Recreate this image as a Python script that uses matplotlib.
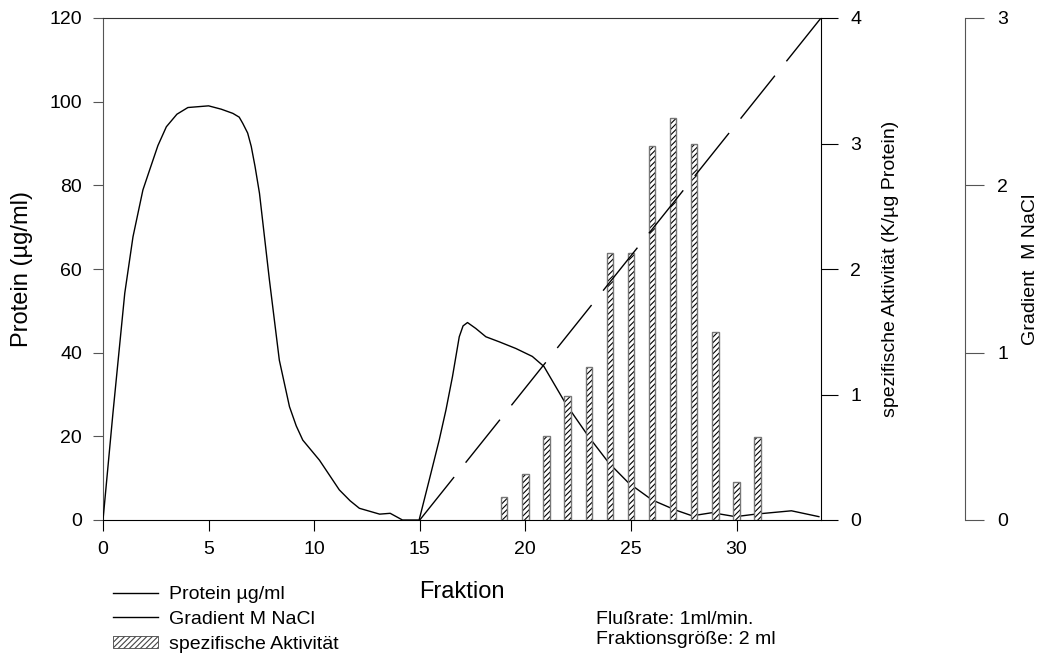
import numpy as np
import matplotlib
matplotlib.use("Agg")
import matplotlib.pyplot as plt
from matplotlib.lines import Line2D
from matplotlib.patches import Patch

plt.rcParams['font.family'] = ['Liberation Sans', 'DejaVu Sans']
plt.rcParams['hatch.linewidth'] = 0.8

# Proteinverlauf (µg/ml)
prot_x = [0, 0.47, 1.03, 1.42, 1.89, 2.21, 2.6, 3.0, 3.5, 4.02, 5.0, 5.6, 6.15, 6.45, 6.62,
          6.85, 7.02, 7.2, 7.41, 7.88, 8.35, 8.83, 9.15, 9.46, 10.25, 11.19, 11.7, 12.14, 13.1, 13.6,
          14.18, 14.97, 15.45, 15.92, 16.24, 16.55, 16.87, 17.05, 17.26, 17.65, 18.13,
          18.76, 19.55, 20.33, 20.88, 21.9, 23.0, 23.96, 24.9, 26.0, 27.1, 27.9,
          28.84, 29.95, 30.9, 32.6, 33.9]
prot_y = [0, 25.5, 54.2, 67.7, 78.9, 83.7, 89.5, 94.0, 97.0, 98.6, 99.0, 98.2, 97.2, 96.3, 94.8,
          92.5, 89.3, 84.5, 78.1, 57.4, 38.2, 27.1, 22.5, 19.1, 14.3, 7.2, 4.6, 2.8, 1.4, 1.6,
          0, 0, 9.6, 19.1, 26.3, 34.3, 43.8, 46.4, 47.2, 45.8, 43.8,
          42.6, 41.0, 39.1, 36.7, 27.9, 19.9, 13.6, 8.8, 4.8, 2.4, 1.0,
          1.75, 0.8, 1.4, 2.2, 0.8]

# Gradient M NaCl
grad_x = [15, 34]
grad_y = [0, 3]

# spezifische Aktivität (K/µg Protein)
frakt = [19, 20, 21, 22, 23, 24, 25, 26, 27, 28, 29, 30, 31]
aktiv = [0.18, 0.37, 0.67, 0.99, 1.22, 2.13, 2.13, 2.98, 3.2, 3.0, 1.5, 0.3, 0.66]

fig = plt.figure(figsize=(10.43, 6.57), dpi=100)
ax = fig.add_axes([103 / 1043, 1 - 520 / 657, 718 / 1043, 502 / 657])
ax2 = ax.twinx()
ax3 = ax.twinx()

ax.plot(prot_x, prot_y, color='black', lw=1.0, zorder=3)
ax.set_xlim(0, 34)
ax.set_ylim(0, 120)
ax.set_xticks([0, 5, 10, 15, 20, 25, 30])
ax.set_yticks(range(0, 121, 20))
ax.set_xlabel('Fraktion', fontsize=17)
ax.xaxis.set_label_coords(0.5, -(592 - 520) / 502)
ax.xaxis.label.set_va('center')
ax.set_ylabel('Protein (µg/ml)', fontsize=17)
ax.yaxis.set_label_coords((22 - 103) / 718, 0.5)
ax.yaxis.label.set_va('center')
ax.tick_params(axis='x', labelsize=14, length=8, width=0.8, pad=7)
ax.tick_params(axis='y', labelsize=14, length=7, width=0.8, pad=8,
               colors='#555555', labelcolor='black')
ax.spines['right'].set_visible(False)
ax.spines['left'].set_color('#555555')
ax.spines['top'].set_color('#333333')

# Balken: Schraffur schwarz, Rand grau
ax2.bar(frakt, aktiv, width=0.3, color='white', edgecolor='black', hatch='//////', lw=0, zorder=2)
ax2.bar(frakt, aktiv, width=0.3, fill=False, edgecolor='#777777', lw=1.0, zorder=2)
ax2.set_ylim(0, 4)
ax2.set_yticks([0, 1, 2, 3, 4])
ax2.set_ylabel('spezifische Aktivität (K/µg Protein)', fontsize=14)
ax2.yaxis.set_label_coords((891 - 103) / 718, 0.5)
ax2.yaxis.label.set_va('center')
ax2.tick_params(axis='y', labelsize=14, length=12, width=0.8, pad=9)
for s in ['top', 'left', 'bottom']:
    ax2.spines[s].set_visible(False)

ax3.plot(grad_x, grad_y, color='black', lw=1.0, dashes=(39.6, 13.25))
ax3.set_ylim(0, 3)
ax3.set_xlim(0, 34)
ax3.set_yticks([0, 1, 2, 3])
ax3.spines['right'].set_position(('axes', 1.201))
ax3.spines['right'].set_color('#555555')
for s in ['top', 'left', 'bottom']:
    ax3.spines[s].set_visible(False)
ax3.tick_params(axis='y', labelsize=14, length=14, width=0.8, pad=9,
                colors='#555555', labelcolor='black')
ax3.set_ylabel('Gradient  M NaCl', fontsize=14)
ax3.yaxis.set_label_coords((1031 - 103) / 718, 0.5)
ax3.yaxis.label.set_va('center')

handles = [Line2D([], [], color='black', lw=1.0),
           Line2D([], [], color='black', lw=1.0),
           Patch(facecolor='white', edgecolor='#444444', hatch='//////', lw=0.6)]
labels = ['Protein µg/ml', 'Gradient M NaCl', 'spezifische Aktivität']
fig.legend(handles, labels, loc='upper left', bbox_to_anchor=(113 / 1043, 1 - 586 / 657),
           frameon=False, fontsize=14, handlelength=2.3, handleheight=0.6, handletextpad=0.6,
           labelspacing=0.4, borderpad=0, borderaxespad=0)

fig.text(596 / 1043, 1 - 619 / 657, 'Flußrate: 1ml/min.', fontsize=14, va='center')
fig.text(596 / 1043, 1 - 639 / 657, 'Fraktionsgröße: 2 ml', fontsize=14, va='center')

fig.savefig('out.png', dpi=100)
